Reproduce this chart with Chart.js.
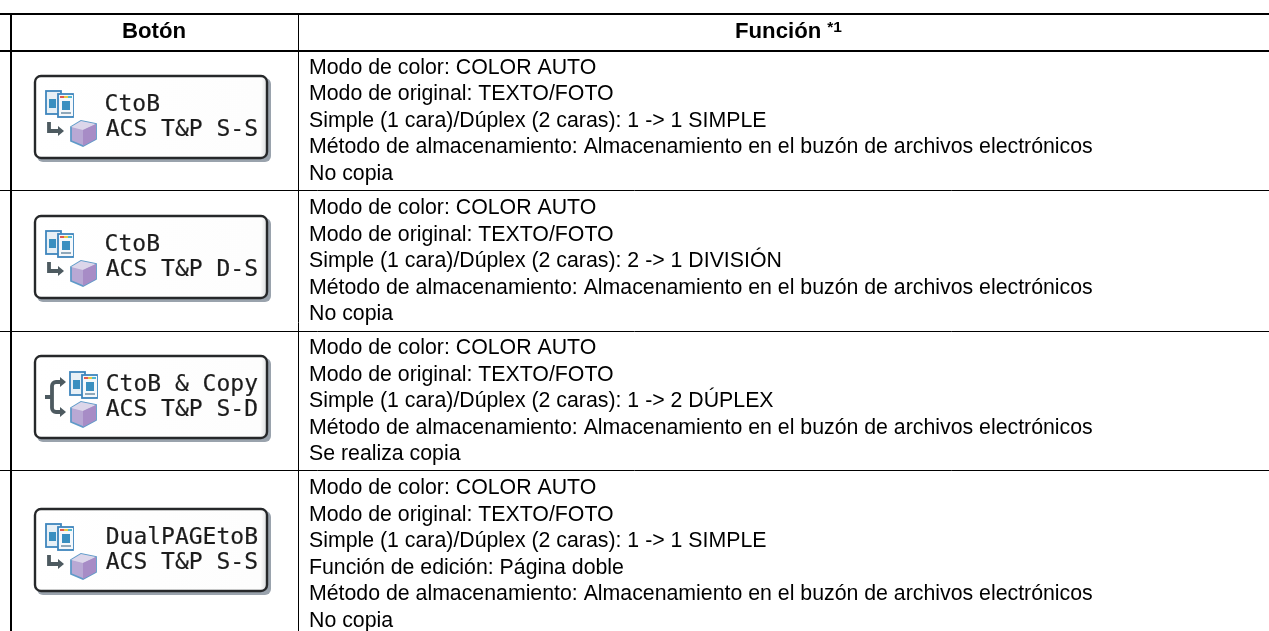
<!DOCTYPE html>
<html>
<head>
<meta charset="utf-8">
<style>
  html, body { margin: 0; background: #fff; }
  #table { display: block; }
</style>
<script src="https://cdn.jsdelivr.net/npm/chart.js@4/dist/chart.umd.min.js"></script>
</head>
<body>
<div style="width:1269px;height:631px"><canvas id="table"></canvas></div>
<script>
const headers = ['Botón', 'Función']
const headerNote = '*1'
const buttonTitles = ['CtoB', 'CtoB', 'CtoB & Copy', 'DualPAGEtoB']
const buttonModes = ['ACS T&P S-S', 'ACS T&P D-S', 'ACS T&P S-D', 'ACS T&P S-S']
const buttonCopies = [false, false, true, false]
const functionRows = [
  ['Modo de color: COLOR AUTO', 'Modo de original: TEXTO/FOTO', 'Simple (1 cara)/Dúplex (2 caras): 1 -> 1 SIMPLE',
    'Método de almacenamiento: Almacenamiento en el buzón de archivos electrónicos', 'No copia'],
  ['Modo de color: COLOR AUTO', 'Modo de original: TEXTO/FOTO', 'Simple (1 cara)/Dúplex (2 caras): 2 -> 1 DIVISIÓN',
    'Método de almacenamiento: Almacenamiento en el buzón de archivos electrónicos', 'No copia'],
  ['Modo de color: COLOR AUTO', 'Modo de original: TEXTO/FOTO', 'Simple (1 cara)/Dúplex (2 caras): 1 -> 2 DÚPLEX',
    'Método de almacenamiento: Almacenamiento en el buzón de archivos electrónicos', 'Se realiza copia'],
  ['Modo de color: COLOR AUTO', 'Modo de original: TEXTO/FOTO', 'Simple (1 cara)/Dúplex (2 caras): 1 -> 1 SIMPLE',
    'Función de edición: Página doble', 'Método de almacenamiento: Almacenamiento en el buzón de archivos electrónicos', 'No copia']
]
const rowRules = [14, 50.5, 191, 331, 471]
const columnRules = [11, 298]
const rowButtonCentres = [119, 259, 399, 552]

const BODY_FONT = '21.3px "Liberation Sans"'
const HEAD_FONT = 'bold 22.2px "Liberation Sans"'
const NOTE_FONT = 'bold 15.5px "Liberation Sans"'
const MONO_FONT = '23px "DejaVu Sans Mono"'

function drawDoc(ctx, x, y) {
  ctx.fillStyle = '#e8f0f6'
  ctx.strokeStyle = '#3f86bd'
  ctx.lineWidth = 1.8
  ctx.fillRect(x, y, 15, 23)
  ctx.strokeRect(x, y, 15, 23)
  ctx.fillStyle = '#3a8fc0'
  ctx.fillRect(x + 3, y + 8, 7, 9)
}

function drawDocs(ctx, x, y) {
  drawDoc(ctx, x, y)
  drawDoc(ctx, x + 12, y + 3)
  ctx.fillStyle = '#f5f8fb'
  ctx.fillRect(x + 13, y + 4, 14, 21)
  ctx.fillStyle = '#e05a50'
  ctx.fillRect(x + 14, y + 5, 4, 2)
  ctx.fillStyle = '#e8c840'
  ctx.fillRect(x + 18, y + 5, 4, 2)
  ctx.fillStyle = '#50b8d0'
  ctx.fillRect(x + 22, y + 5, 4, 2)
  ctx.fillStyle = '#3a8fc0'
  ctx.fillRect(x + 16, y + 10, 8, 9)
  ctx.fillStyle = '#8fa8ba'
  ctx.fillRect(x + 15, y + 21, 10, 2)
}

function drawCube(ctx, x, y) {
  const w = 25, h = 25
  ctx.fillStyle = '#b8a8d4'
  ctx.strokeStyle = '#5f9ac8'
  ctx.lineWidth = 1.8
  ctx.beginPath()
  ctx.moveTo(x, y + 6)
  ctx.lineTo(x + 10, y)
  ctx.lineTo(x + w, y + 3)
  ctx.lineTo(x + w, y + 18)
  ctx.lineTo(x + 12, h + y)
  ctx.lineTo(x, y + 20)
  ctx.closePath()
  ctx.fill()
  ctx.stroke()
  ctx.fillStyle = '#dcd6ea'
  ctx.beginPath()
  ctx.moveTo(x, y + 6)
  ctx.lineTo(x + 10, y)
  ctx.lineTo(x + w, y + 3)
  ctx.lineTo(x + 12, y + 9)
  ctx.closePath()
  ctx.fill()
  ctx.fillStyle = '#a78cc6'
  ctx.beginPath()
  ctx.moveTo(x + 12, y + 9)
  ctx.lineTo(x + w, y + 3)
  ctx.lineTo(x + w, y + 18)
  ctx.lineTo(x + 12, y + h)
  ctx.closePath()
  ctx.fill()
}

function arrowHead(ctx, x, y) {
  ctx.beginPath()
  ctx.moveTo(x, y - 5)
  ctx.lineTo(x + 6, y)
  ctx.lineTo(x, y + 5)
  ctx.closePath()
  ctx.fill()
}

function drawArrows(ctx, copies) {
  ctx.strokeStyle = ctx.fillStyle = '#4d5a60'
  ctx.lineWidth = 3.8
  ctx.beginPath()
  if (copies) {
    ctx.moveTo(28, 27)
    ctx.arcTo(18, 27, 18, 34, 4)
    ctx.lineTo(18, 50)
    ctx.arcTo(18, 57, 28, 57, 4)
    ctx.lineTo(28, 57)
    ctx.moveTo(11, 42)
    ctx.lineTo(18, 42)
    ctx.stroke()
    arrowHead(ctx, 26, 27)
    arrowHead(ctx, 26, 57)
  } else {
    ctx.moveTo(15, 47)
    ctx.lineTo(15, 56)
    ctx.lineTo(24, 56)
    ctx.stroke()
    arrowHead(ctx, 24, 56)
  }
}

// one small canvas per row, used as the point style of the button dataset
function buttonImage(title, mode, copies) {
  const c = document.createElement('canvas')
  c.width = 242
  c.height = 92
  const ctx = c.getContext('2d')
  ctx.translate(2, 2)
  ctx.filter = 'blur(0.45px)'
  ctx.fillStyle = '#9aa3ad'
  ctx.beginPath()
  ctx.roundRect(3, 3, 234, 84, 6)
  ctx.fill()
  const g = ctx.createLinearGradient(0, 40, 234, 44)
  g.addColorStop(0, '#ffffff')
  g.addColorStop(0.97, '#fdfdfd')
  g.addColorStop(1, '#d4d6d8')
  ctx.fillStyle = g
  ctx.strokeStyle = '#26282a'
  ctx.lineWidth = 2.4
  ctx.beginPath()
  ctx.roundRect(1, 1, 232, 82, 6)
  ctx.fill()
  ctx.stroke()
  if (copies) {
    drawDocs(ctx, 36, 17)
    drawCube(ctx, 37, 47)
  } else {
    drawDocs(ctx, 12, 16)
    drawCube(ctx, 37, 46)
  }
  drawArrows(ctx, copies)
  ctx.fillStyle = '#1c1c1c'
  ctx.strokeStyle = '#1c1c1c'
  ctx.lineWidth = 0.2
  ctx.font = MONO_FONT
  ctx.textAlign = 'right'
  ctx.textBaseline = 'alphabetic'
  const titleX = title.length === 4 ? 126 : 224
  ctx.fillText(title, titleX, 36)
  ctx.strokeText(title, titleX, 36)
  ctx.fillText(mode, 224, 61)
  ctx.strokeText(mode, 224, 61)
  return c
}

const tableText = {
  id: 'tableText',
  afterDatasetsDraw(chart) {
    const { ctx, scales: { x, y } } = chart
    ctx.save()
    ctx.fillStyle = '#000'
    ctx.textBaseline = 'alphabetic'
    ctx.textAlign = 'center'
    ctx.font = HEAD_FONT
    ctx.fillText(headers[0], x.getPixelForValue(154), y.getPixelForValue(38))
    const w = ctx.measureText(headers[1]).width
    ctx.textAlign = 'left'
    ctx.fillText(headers[1], x.getPixelForValue(735), y.getPixelForValue(38))
    ctx.font = NOTE_FONT
    ctx.fillText(headerNote, x.getPixelForValue(735) + w + 6, y.getPixelForValue(32))
    ctx.font = BODY_FONT
    functionRows.forEach((lines, r) => {
      lines.forEach((line, i) => {
        const base = rowRules[r + 1] + 23 + i * 26.5
        ctx.fillText(line, x.getPixelForValue(309), y.getPixelForValue(base))
      })
    })
    ctx.restore()
  }
}

new Chart('table', {
  type: 'scatter',
  data: {
    datasets: [{
      data: rowButtonCentres.map((c) => ({ x: 153, y: c })),
      pointStyle: buttonTitles.map((t, i) => buttonImage(t, buttonModes[i], buttonCopies[i])),
      clip: false
    }]
  },
  plugins: [tableText],
  options: {
    animation: false,
    responsive: true,
    maintainAspectRatio: false,
    layout: { padding: { top: 14 }, autoPadding: false },
    plugins: { legend: { display: false }, tooltip: { enabled: false } },
    scales: {
      x: {
        type: 'linear',
        min: 0,
        max: 1269,
        position: 'top',
        afterBuildTicks: (s) => { s.ticks = columnRules.map((value) => ({ value })) },
        afterFit: (s) => { s.height = 0 },
        ticks: { display: false },
        border: { display: false },
        grid: { drawTicks: false, color: '#000', lineWidth: (c) => (c.index === 0 ? 2 : 1) }
      },
      y: {
        type: 'linear',
        reverse: true,
        min: 14,
        max: 631,
        afterBuildTicks: (s) => { s.ticks = rowRules.map((value) => ({ value })) },
        afterFit: (s) => { s.width = 0 },
        ticks: { display: false },
        border: { display: false },
        grid: { drawTicks: false, color: '#000', lineWidth: (c) => (c.index < 2 ? 2 : 1) }
      }
    }
  }
})
</script>
</body>
</html>
